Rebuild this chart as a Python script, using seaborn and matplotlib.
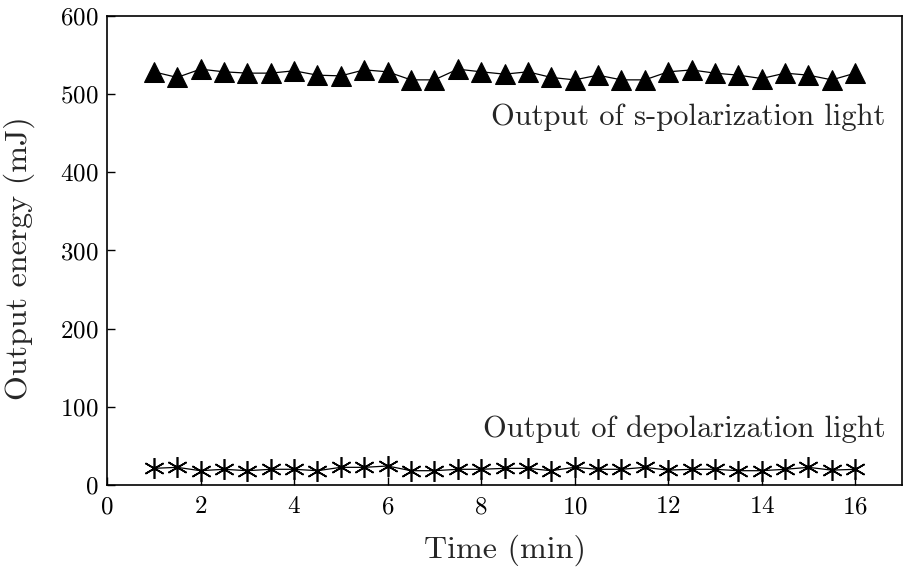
import numpy as np
import pandas as pd
import matplotlib
matplotlib.use("Agg")
import matplotlib.pyplot as plt
import seaborn as sns

time_min = [1, 1.5, 2, 2.5, 3, 3.5, 4, 4.5, 5, 5.5, 6, 6.5, 7, 7.5, 8, 8.5,
            9, 9.5, 10, 10.5, 11, 11.5, 12, 12.5, 13, 13.5, 14, 14.5, 15, 15.5, 16]
s_pol = [528.6, 521.4, 532.0, 528.6, 526.9, 526.9, 529.9, 524.3, 523.4, 531.1,
         528.6, 518.3, 518.3, 532.0, 528.6, 525.6, 528.6, 521.4, 518.3, 524.3,
         518.3, 518.3, 528.6, 531.0, 526.9, 524.3, 520.0, 526.9, 524.3, 518.3, 526.9]
depol = [21.3, 22.6, 18.3, 20.1, 18.3, 20.1, 20.1, 18.3, 22.6, 22.6,
         24.3, 18.3, 18.3, 20.1, 20.1, 21.3, 21.3, 18.3, 22.6, 20.1,
         20.1, 22.6, 19.0, 20.1, 20.1, 18.3, 18.3, 20.1, 22.6, 19.0, 20.1]
x_ticks = [0, 2, 4, 6, 8, 10, 12, 14, 16]
y_ticks = [0, 100, 200, 300, 400, 500, 600]

sns.set_style("ticks")
plt.rcParams['font.family'] = ['cmr10', 'DejaVu Serif']
plt.rcParams['mathtext.fontset'] = 'cm'
plt.rcParams['axes.formatter.use_mathtext'] = True
plt.rcParams['axes.unicode_minus'] = False

df = pd.DataFrame({"t": time_min, "s": s_pol, "d": depol})

fig = plt.figure(figsize=(9.05, 5.67), dpi=100)
ax = fig.add_axes([107/905, 1-485/567, (902-107)/905, (485-16)/567])

sns.lineplot(data=df, x="t", y="s", ax=ax, color="black", linewidth=0.9,
             marker="^", markersize=15, markeredgecolor="black",
             markerfacecolor="black")
sns.lineplot(data=df, x="t", y="d", ax=ax, color="black", linewidth=0.9,
             marker=(6, 2, 0), markersize=15, markeredgecolor="black",
             markeredgewidth=1.2)

ax.set_xlim(0, 17)
ax.set_ylim(0, 600)
ax.set_xticks(x_ticks)
ax.set_yticks(y_ticks)
ax.tick_params(direction="in", length=6, width=1, labelsize=18, colors="black",
               top=False, right=False)
ax.tick_params(axis="x", pad=8)
ax.tick_params(axis="y", pad=6)
for sp in ax.spines.values():
    sp.set_visible(True)
    sp.set_linewidth(1.2)
    sp.set_color("black")

ax.set_xlabel("Time (min)", fontsize=23)
ax.set_ylabel("Output energy (mJ)", fontsize=23)
ax.xaxis.set_label_coords(0.5, -0.105)
ax.yaxis.set_label_coords(-0.090, 0.484)

ax.text(16.64, 471, "Output of s-polarization light", ha="right", va="center", fontsize=22)
ax.text(16.64, 72, "Output of depolarization light", ha="right", va="center", fontsize=22)

fig.savefig("out.png", dpi=100)
